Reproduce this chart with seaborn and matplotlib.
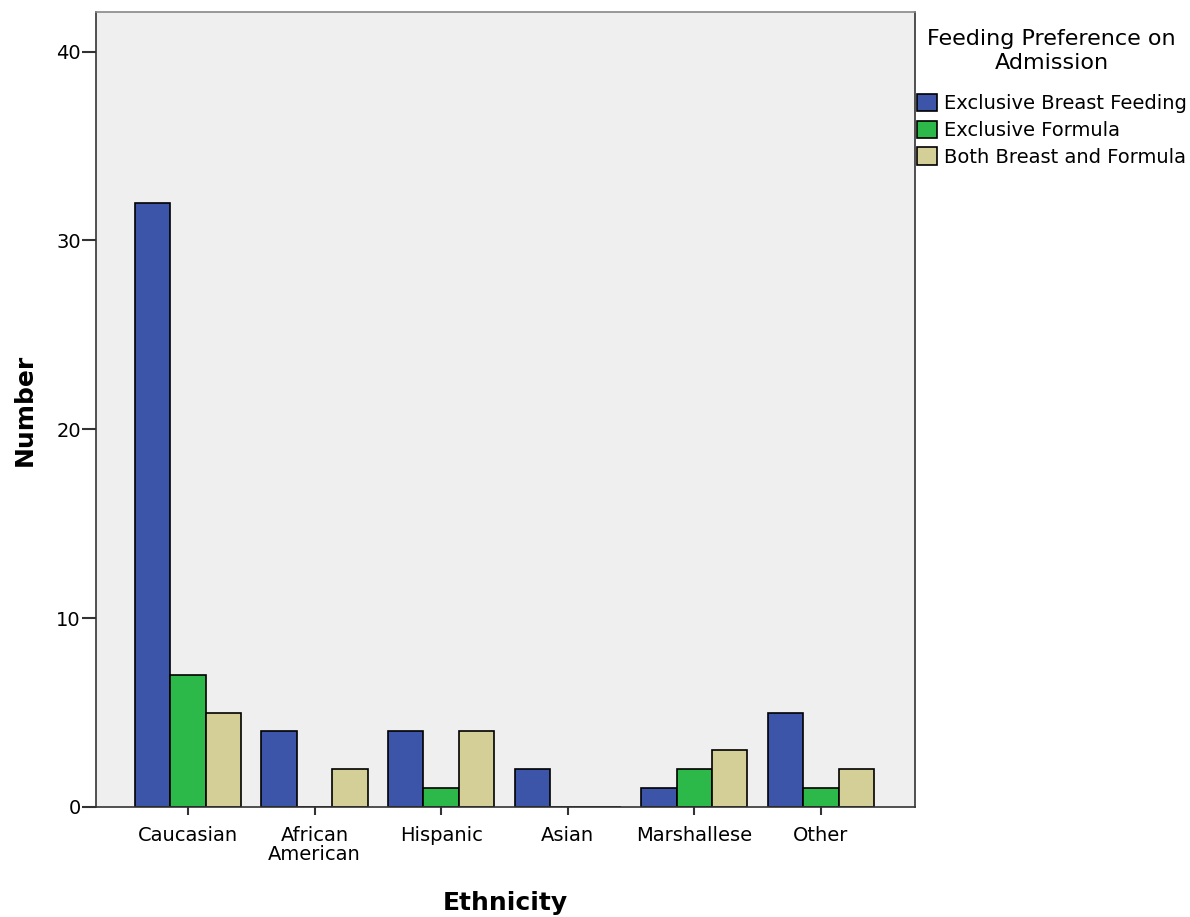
import pandas as pd
import matplotlib
matplotlib.use('Agg')
import matplotlib.pyplot as plt
import seaborn as sns

ethnicity = ['Caucasian', 'African\nAmerican', 'Hispanic', 'Asian', 'Marshallese', 'Other']
feeding = ['Exclusive Breast Feeding', 'Exclusive Formula', 'Both Breast and Formula']
breast = [32, 4, 4, 2, 1, 5]
formula = [7, 0, 1, 0, 2, 1]
both = [5, 2, 4, 0, 3, 2]
colors = ['#3c55a8', '#2db84a', '#d3cf97']

rows = []
for name, vals in zip(feeding, [breast, formula, both]):
    for eth, v in zip(ethnicity, vals):
        rows.append({'Ethnicity': eth, 'Feeding': name, 'Number': v})
data = pd.DataFrame(rows)

sns.set_style('white')
plt.rcParams['font.family'] = ['DejaVu Sans']
plt.rcParams['text.color'] = 'black'
plt.rcParams['axes.labelcolor'] = 'black'
plt.rcParams['xtick.color'] = 'black'
plt.rcParams['ytick.color'] = 'black'

fig = plt.figure(figsize=(11.9, 9.17), dpi=100)
ax = fig.add_axes([0.0807, 0.12, 0.688, 0.867])
sns.barplot(x='Ethnicity', y='Number', hue='Feeding', data=data, order=ethnicity,
            hue_order=feeding, palette=colors, saturation=1, width=0.84,
            edgecolor='black', linewidth=1.2, ax=ax)

ax.set_facecolor('#efefef')
ax.set_xlim(-0.727, 5.742)
ax.set_ylim(0, 42.1)
ax.set_yticks([0, 10, 20, 30, 40])
for s in ax.spines.values():
    s.set_color('#333333')
    s.set_linewidth(1.2)
ax.spines['top'].set_color('#888888')
ax.tick_params(axis='both', direction='out', bottom=True, left=True, width=1.5,
               color='#333333', labelsize=14)
ax.tick_params(axis='y', length=10, pad=1)
ax.tick_params(axis='x', length=6, pad=8)
ax.set_xlabel('Ethnicity', fontsize=18, fontweight='bold', labelpad=19)
ax.set_ylabel('Number', fontsize=18, fontweight='bold', labelpad=14)
for lbl in ax.get_xticklabels():
    lbl.set_linespacing(1.0)

leg = ax.legend(title='Feeding Preference on\nAdmission', loc='upper left',
                bbox_to_anchor=(0.988, 0.993), frameon=False, fontsize=14,
                title_fontsize=16, handlelength=1.05, handleheight=1.0,
                handletextpad=0.36, labelspacing=0.38, borderaxespad=0.2)
leg.get_title().set_linespacing(1.25)
leg.get_title().set_multialignment('center')
leg._legend_box.sep = 15
for h in leg.legend_handles:
    h.set_edgecolor('black')

plt.savefig('out.png', dpi=100)
